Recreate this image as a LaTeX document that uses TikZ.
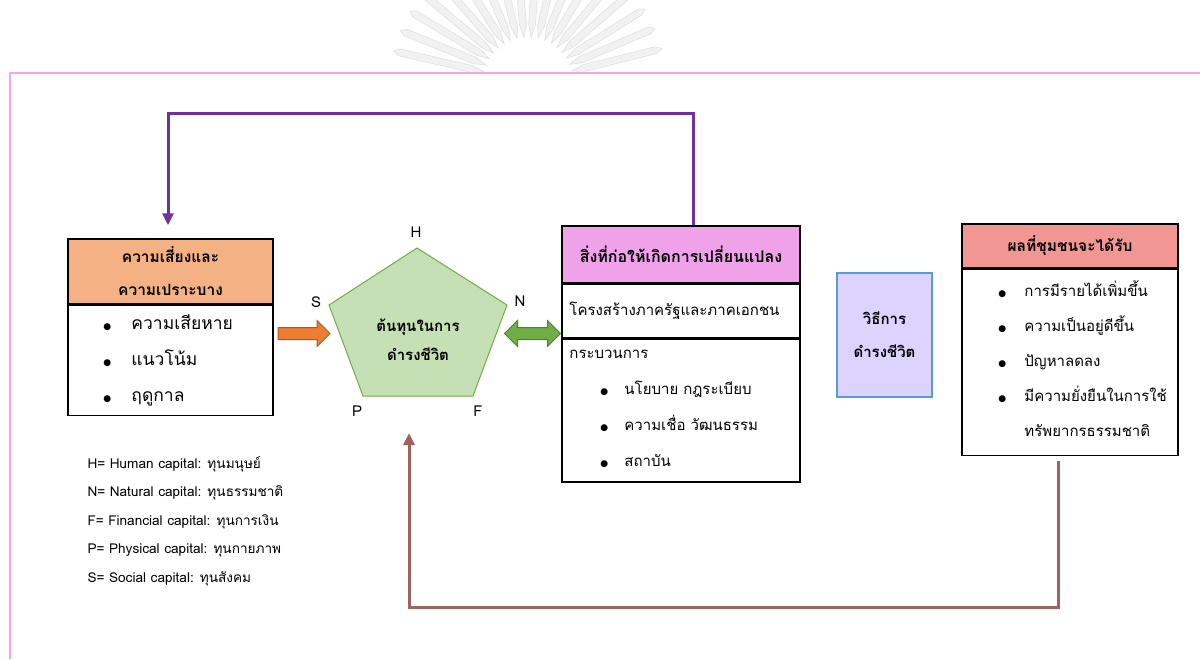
\documentclass[tikz,border=0pt]{standalone}
\usepackage{fontspec}
\setmainfont{Loma}[Script=Thai]
\newfontfamily\symfont{DejaVu Sans}
\usetikzlibrary{positioning,shapes.arrows,arrows.meta}
\definecolor{pinkedge}{RGB}{243,166,230}
\definecolor{riskfill}{RGB}{244,177,131}
\definecolor{chgfill}{RGB}{240,162,232}
\definecolor{wayfill}{RGB}{220,211,255}
\definecolor{wayedge}{RGB}{91,155,213}
\definecolor{outfill}{RGB}{241,150,146}
\definecolor{capfill}{RGB}{197,224,180}
\definecolor{capedge}{RGB}{112,173,71}
\definecolor{orfill}{RGB}{237,125,49}
\definecolor{oredge}{RGB}{174,90,33}
\definecolor{grfill}{RGB}{112,173,71}
\definecolor{gredge}{RGB}{80,126,50}
\definecolor{purp}{RGB}{112,48,160}
\definecolor{brn}{RGB}{158,98,96}
\definecolor{sealray}{RGB}{242,242,242}
\definecolor{sealedge}{RGB}{224,224,224}
\newcommand{\blt}{{\fontsize{9}{9}\symfont ●}}
\newcommand{\itm}[2]{\makebox[#1][l]{\blt}#2}
\tikzset{
  headbox/.style={draw=black,line width=1.5pt,rectangle,inner sep=0pt,align=center,
    font=\fontsize{15.5}{33}\selectfont\bfseries},
  bodybox/.style={draw=black,line width=1.5pt,rectangle,inner sep=0pt},
  listtext/.style={anchor=west,inner sep=0pt,align=left,font=\fontsize{15}{36}\selectfont},
  capletter/.style={font=\fontsize{15}{15}\selectfont},
  flow/.style={line width=3pt,-{Triangle[width=11pt,length=12pt]}},
}
\begin{document}
\begin{tikzpicture}[x=1pt,y=-1pt]
\useasboundingbox (0,0) rectangle (1200,659);
% faint seal
\begin{scope}
\clip (0,0) rectangle (1200,72);
\foreach \a in {14,23,...,167}
  \draw[sealedge,fill=sealray,line width=0.6pt,shift={(528,82)},rotate=\a]
    (45,0) -- (58,-3.5) -- (132,-3.5) -- (138,0) -- (132,3.5) -- (58,3.5) -- cycle;
\end{scope}
% frame
\draw[pinkedge,line width=2pt] (10,659) -- (10,73) -- (1200,73);

% risk box
\node[headbox,fill=riskfill,minimum width=205,minimum height=65] (riskhead) at (170.5,271.5)
  {ความเสี่ยงและ\\ความเปราะบาง};
\node[bodybox,minimum width=205,minimum height=110,below=0pt of riskhead] (riskbody) {};
\node[listtext,font=\fontsize{17.5}{36}\selectfont] (risklist) at ([xshift=36pt]riskbody.west)
  {\itm{28pt}{ความเสียหาย}\\\itm{28pt}{แนวโน้ม}\\\itm{28pt}{ฤดูกาล}};

% capital pentagon
\draw[capedge,fill=capfill,line width=1pt] (417,248) -- (507,305) -- (473,396) -- (363,396) -- (329,305) -- cycle;
\coordinate (capbot) at (418,396);
\node[align=center,font=\fontsize{15}{29}\selectfont\bfseries] (capital) at (418,339.5) {ต้นทุนในการ\\ดำรงชีวิต};
\node[capletter] (lblH) at (416,232) {H};
\node[capletter] (lblN) at (520,301) {N};
\node[capletter] (lblS) at (316,302) {S};
\node[capletter] (lblP) at (357,411) {P};
\node[capletter] (lblF) at (478,411) {F};

% block arrows
\node[single arrow,draw=oredge,fill=orfill,line width=1pt,inner xsep=0pt,inner ysep=5.5pt,minimum height=52,
  single arrow head extend=7pt,single arrow head indent=0pt] (sarrow) at (301,333.5) {};
\node[double arrow,draw=gredge,fill=grfill,line width=1pt,inner xsep=0pt,inner ysep=5.5pt,minimum height=56,
  double arrow head extend=7pt] (narrow) at (532.5,333.5) {};

% change box
\node[headbox,fill=chgfill,font=\fontsize{16}{33}\selectfont\bfseries,minimum width=238,minimum height=57] (chghead) at (681,254.5)
  {สิ่งที่ก่อให้เกิดการเปลี่ยนแปลง};
\node[bodybox,minimum width=238,minimum height=53,below=0pt of chghead] (chgstruct) {};
\node[listtext] (structtext) at ([xshift=8pt]chgstruct.west) {โครงสร้างภาครัฐและภาคเอกชน};
\node[bodybox,minimum width=238,minimum height=143,below=0pt of chgstruct] (chgproc) {};
\node[listtext] (proclist) at ([xshift=8pt,yshift=2pt]chgproc.west)
  {กระบวนการ\\\hspace*{31pt}\itm{24pt}{นโยบาย กฎระเบียบ}\\\hspace*{31pt}\itm{24pt}{ความเชื่อ วัฒนธรรม}\\\hspace*{31pt}\itm{24pt}{สถาบัน}};

% livelihood strategy
\node[draw=wayedge,fill=wayfill,line width=1.5pt,minimum width=95,minimum height=124,align=center,
  font=\fontsize{15}{33}\selectfont\bfseries] (way) at (884.5,335) {วิธีการ\\ดำรงชีวิต};

% outcome box
\node[headbox,fill=outfill,minimum width=216,minimum height=44] (outhead) at (1070,246)
  {ผลที่ชุมชนจะได้รับ};
\node[bodybox,minimum width=216,minimum height=186,below=0pt of outhead] (outbody) {};
\node[listtext,font=\fontsize{15}{35}\selectfont] (outlist) at ([xshift=37pt,yshift=4pt]outbody.west)
  {\itm{26pt}{การมีรายได้เพิ่มขึ้น}\\\itm{26pt}{ความเป็นอยู่ดีขึ้น}\\\itm{26pt}{ปัญหาลดลง}\\\itm{26pt}{มีความยั่งยืนในการใช้}\\\hspace*{26pt}ทรัพยากรธรรมชาติ};

% legend
\node[anchor=west,align=left,font=\fontsize{13.6}{28.5}\selectfont] (legend) at (84,521)
  {H= Human capital: ทุนมนุษย์\\N= Natural capital: ทุนธรรมชาติ\\F= Financial capital: ทุนการเงิน\\P= Physical capital: ทุนกายภาพ\\S= Social capital: ทุนสังคม};

% feedback lines
\coordinate (pR) at (693,113);
\coordinate (pL) at (168,113);
\draw[flow,purp,shorten >=13pt] (pR |- chghead.north) -- (pR) -- (pL) -- (pL |- riskhead.north);
\coordinate (bR) at (1058,607);
\coordinate (bL) at (409,607);
\draw[flow,brn,shorten <=5pt,shorten >=37pt] (bR |- outbody.south) -- (bR) -- (bL) -- (bL |- capbot);
\end{tikzpicture}
\end{document}
